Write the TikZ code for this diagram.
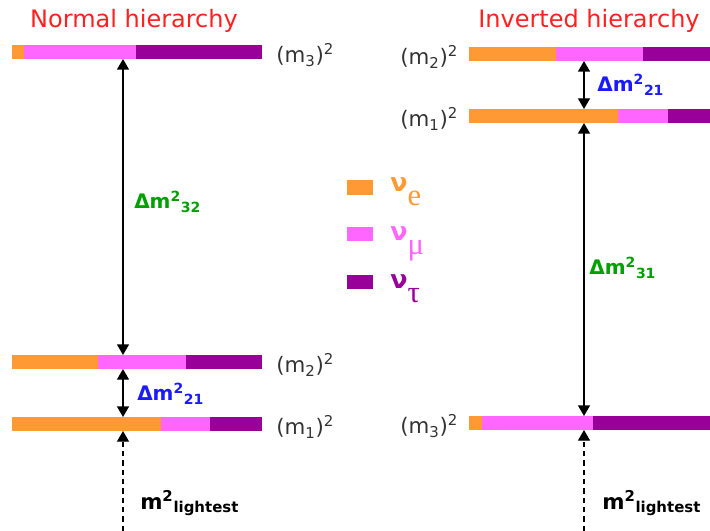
\documentclass[tikz,border=0pt]{standalone}
\usepackage{fontspec}
\setmainfont{DejaVu Sans}
\newfontfamily\subfont{Liberation Serif}
\usetikzlibrary{arrows.meta,positioning}
\definecolor{cE}{HTML}{FF9933}
\definecolor{cM}{HTML}{FF66FF}
\definecolor{cT}{HTML}{990099}
\definecolor{cTitle}{HTML}{FF2020}
\definecolor{cAtm}{HTML}{00A000}
\definecolor{cSol}{HTML}{1A1AFF}
\definecolor{cInk}{HTML}{333333}
\tikzset{
  >={Triangle[width=9pt,length=8pt]},
  ttl/.style ={font=\fontsize{18}{20}\selectfont,text=cTitle,inner sep=0pt},
  mlab/.style={font=\fontsize{16}{17}\selectfont,text=cInk,inner sep=0pt},
  dlab/.style={font=\fontsize{15}{17}\selectfont\bfseries,inner sep=0pt,anchor=west},
  llab/.style={font=\fontsize{16}{18}\selectfont\bfseries,inner sep=0pt,anchor=west},
  gap/.style ={<->,line width=1pt,black},
  lgt/.style ={->,line width=1pt,black,dash pattern=on 4pt off 3pt},
  key/.style ={minimum width=19.5pt,minimum height=10.5pt,inner sep=0pt},
  nulab/.style={font=\fontsize{19}{22}\selectfont\bfseries,inner sep=0pt,anchor=base west},
}
\newcommand{\nusub}[1]{\raisebox{-11pt}{\mdseries\subfont\fontsize{23}{23}\selectfont #1}}
% bar: name, y, x0, x1, x2, x3
\newcommand{\massbar}[6]{%
  \fill[cE] (#3,#2-7) rectangle (#4,#2+7);
  \fill[cM] (#4,#2-7) rectangle (#5,#2+7);
  \fill[cT] (#5,#2-7) rectangle (#6,#2+7);
  \coordinate (#1w) at (#3,#2); \coordinate (#1e) at (#6,#2);
  \coordinate (#1t) at (#3,#2-7); \coordinate (#1b) at (#3,#2+7);}

\begin{document}
\begin{tikzpicture}[x=0.75pt,y=-0.75pt]
\useasboundingbox (0,0) rectangle (710,531);
\node[ttl] (tn) at (134,21) {Normal hierarchy};
\node[ttl] (ti) at (589,21) {Inverted hierarchy};

% normal ordering
\massbar{L3}{52}{12}{24}{136}{262}
\massbar{L2}{362}{12}{98}{186}{262}
\massbar{L1}{424}{12}{161}{210}{262}
\node[mlab,right=10.5pt of L3e,yshift=-2pt] (mL3) {(m\textsubscript{3})\textsuperscript{2}};
\node[mlab,right=10.5pt of L2e,yshift=-2pt] (mL2) {(m\textsubscript{2})\textsuperscript{2}};
\node[mlab,right=10.5pt of L1e,yshift=-2pt] (mL1) {(m\textsubscript{1})\textsuperscript{2}};
\coordinate (aL) at (123,0);
\coordinate (bL) at (123,531);
\draw[gap] (aL |- L3b) -- (aL |- L2t);
\draw[gap] (aL |- L2b) -- (aL |- L1t);
\draw[lgt] (bL) -- (aL |- L1b);
\node[dlab,text=cAtm] (dL32) at (134,202) {Δm\textsuperscript{2}\textsubscript{32}};
\node[dlab,text=cSol] (dL21) at (137,394) {Δm\textsuperscript{2}\textsubscript{21}};
\node[llab] (lL) at (140,503) {m\textsuperscript{2}\textsubscript{lightest}};

% legend
\node[key,fill=cE] (kE) at (360,187.5) {};
\node[key,fill=cM] (kM) at (360,234) {};
\node[key,fill=cT] (kT) at (360,282) {};
\node[nulab,text=cE] (nE) at (390,191) {ν\nusub{e}};
\node[nulab,text=cM] (nM) at (390,240) {ν\nusub{μ}};
\node[nulab,text=cT] (nT) at (390,288) {ν\nusub{τ}};

% inverted ordering
\massbar{R2}{54}{469}{556}{643}{710}
\massbar{R1}{116}{469}{618}{668}{710}
\massbar{R3}{423}{469}{482}{593}{710}
\node[mlab,left=8pt of R2w,yshift=-2pt] (mR2) {(m\textsubscript{2})\textsuperscript{2}};
\node[mlab,left=8pt of R1w,yshift=-2pt] (mR1) {(m\textsubscript{1})\textsuperscript{2}};
\node[mlab,left=8pt of R3w,yshift=-2pt] (mR3) {(m\textsubscript{3})\textsuperscript{2}};
\coordinate (aR) at (584,0);
\coordinate (bR) at (584,531);
\draw[gap] (aR |- R2b) -- (aR |- R1t);
\draw[gap] (aR |- R1b) -- (aR |- R3t);
\draw[lgt] (bR) -- (aR |- R3b);
\node[dlab,text=cSol] (dR21) at (597,85) {Δm\textsuperscript{2}\textsubscript{21}};
\node[dlab,text=cAtm] (dR31) at (589,268) {Δm\textsuperscript{2}\textsubscript{31}};
\node[llab] (lR) at (602,503) {m\textsuperscript{2}\textsubscript{lightest}};
\end{tikzpicture}
\end{document}
